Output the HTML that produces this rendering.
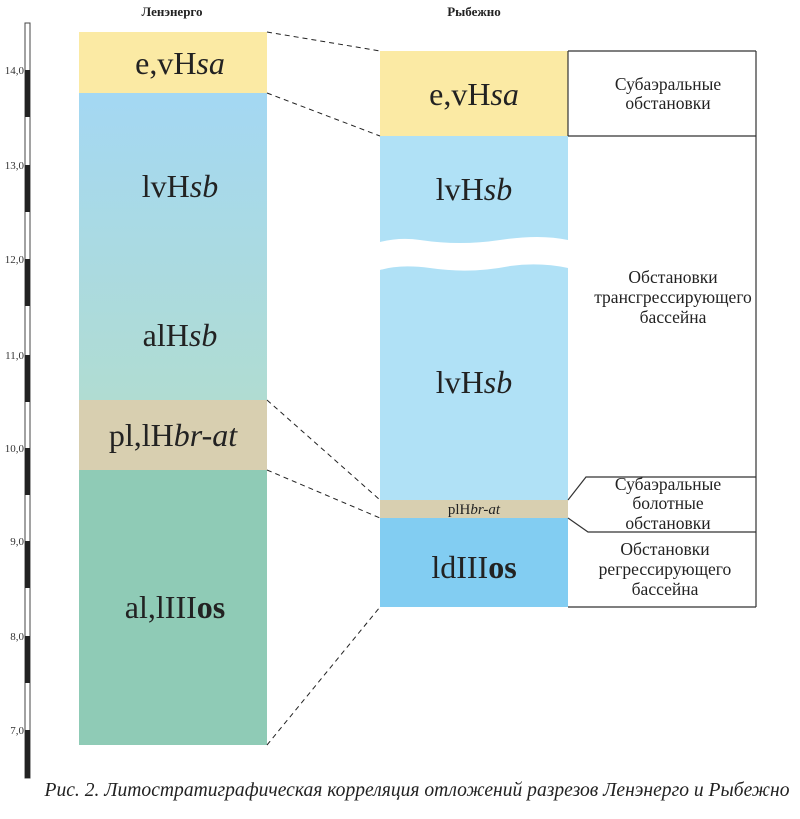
<!DOCTYPE html>
<html><head><meta charset="utf-8"><style>
body{margin:0;background:#fff;}
</style></head><body>
<svg width="800" height="814" xmlns="http://www.w3.org/2000/svg" font-family="Liberation Serif, serif">
<defs>
<linearGradient id="g1" x1="0" y1="0" x2="0" y2="1">
<stop offset="0" stop-color="#a4d8f3"/><stop offset="1" stop-color="#b0dcd2"/>
</linearGradient>
</defs>
<rect x="25" y="23" width="5" height="755" fill="#fff" stroke="#444" stroke-width="1"/>
<g fill="#222">
<rect x="25" y="70" width="5" height="47"/><rect x="25" y="165" width="5" height="47"/>
<rect x="25" y="259" width="5" height="47"/><rect x="25" y="355" width="5" height="47"/>
<rect x="25" y="448" width="5" height="47"/><rect x="25" y="541" width="5" height="47"/>
<rect x="25" y="636" width="5" height="47"/><rect x="25" y="730" width="5" height="48"/>
</g>
<g font-size="11" fill="#333" text-anchor="end">
<text x="24" y="74">14,0</text><text x="24" y="169">13,0</text><text x="24" y="263">12,0</text>
<text x="24" y="359">11,0</text><text x="24" y="452">10,0</text><text x="24" y="545">9,0</text>
<text x="24" y="640">8,0</text><text x="24" y="734">7,0</text>
</g>
<text x="172" y="16" font-size="13" font-weight="bold" text-anchor="middle" fill="#222">Ленэнерго</text>
<text x="474" y="16" font-size="13" font-weight="bold" text-anchor="middle" fill="#222">Рыбежно</text>
<rect x="79" y="32" width="188" height="61" fill="#fbeaa4"/>
<rect x="79" y="93" width="188" height="307" fill="url(#g1)"/>
<rect x="79" y="400" width="188" height="70" fill="#d8cfb0"/>
<rect x="79" y="470" width="188" height="275" fill="#8fcbb6"/>
<g font-size="32" fill="#222" text-anchor="middle">
<text x="180" y="74">e,vH<tspan font-style="italic">sa</tspan></text>
<text x="180" y="197">lvH<tspan font-style="italic">sb</tspan></text>
<text x="180" y="346">alH<tspan font-style="italic">sb</tspan></text>
<text x="173" y="446">pl,lH<tspan font-style="italic">br-at</tspan></text>
<text x="175" y="618">al,lIII<tspan font-weight="bold">os</tspan></text>
</g>
<rect x="380" y="51" width="188" height="85" fill="#fbeaa4"/>
<path d="M380,136 H568 V240 Q540,234 500,240 Q460,246 420,240 Q400,237 380,242 Z" fill="#b0e1f6"/>
<path d="M380,270 Q400,264 430,268 Q470,274 510,266 Q540,262 568,268 V500 H380 Z" fill="#b0e1f6"/>
<rect x="380" y="500" width="188" height="18" fill="#d8cfb0"/>
<rect x="380" y="518" width="188" height="89" fill="#82cdf2"/>
<g font-size="32" fill="#222" text-anchor="middle">
<text x="474" y="105">e,vH<tspan font-style="italic">sa</tspan></text>
<text x="474" y="200">lvH<tspan font-style="italic">sb</tspan></text>
<text x="474" y="393">lvH<tspan font-style="italic">sb</tspan></text>
<text x="474" y="514" font-size="15">plH<tspan font-style="italic">br-at</tspan></text>
<text x="474" y="578">ldIII<tspan font-weight="bold">os</tspan></text>
</g>
<g stroke="#222" stroke-width="1" stroke-dasharray="5,4" fill="none">
<line x1="267" y1="32" x2="380" y2="51"/><line x1="267" y1="93" x2="380" y2="136"/>
<line x1="267" y1="400" x2="380" y2="500"/><line x1="267" y1="470" x2="380" y2="518"/>
<line x1="267" y1="745" x2="380" y2="607"/>
</g>
<g stroke="#333" stroke-width="1.2" fill="none">
<line x1="756" y1="51" x2="756" y2="607"/>
<line x1="568" y1="51" x2="756" y2="51"/>
<line x1="568" y1="51" x2="568" y2="136"/>
<line x1="568" y1="136" x2="756" y2="136"/>
<polyline points="568,500 586,477 756,477"/>
<polyline points="568,518 588,532 756,532"/>
<line x1="568" y1="607" x2="756" y2="607"/>
</g>
<g font-size="17.5" fill="#222" text-anchor="middle">
<text x="668" y="90">Субаэральные</text><text x="668" y="109">обстановки</text>
<text x="673" y="283">Обстановки</text><text x="673" y="303">трансгрессирующего</text><text x="673" y="323">бассейна</text>
<text x="668" y="490">Субаэральные</text><text x="668" y="509">болотные</text><text x="668" y="529">обстановки</text>
<text x="665" y="555">Обстановки</text><text x="665" y="575">регрессирующего</text><text x="665" y="595">бассейна</text>
</g>
<text x="417" y="796" font-size="19.5" font-style="italic" text-anchor="middle" fill="#222" textLength="745" lengthAdjust="spacingAndGlyphs">Рис. 2. Литостратиграфическая корреляция отложений разрезов Ленэнерго и Рыбежно</text>
</svg>
</body></html>
